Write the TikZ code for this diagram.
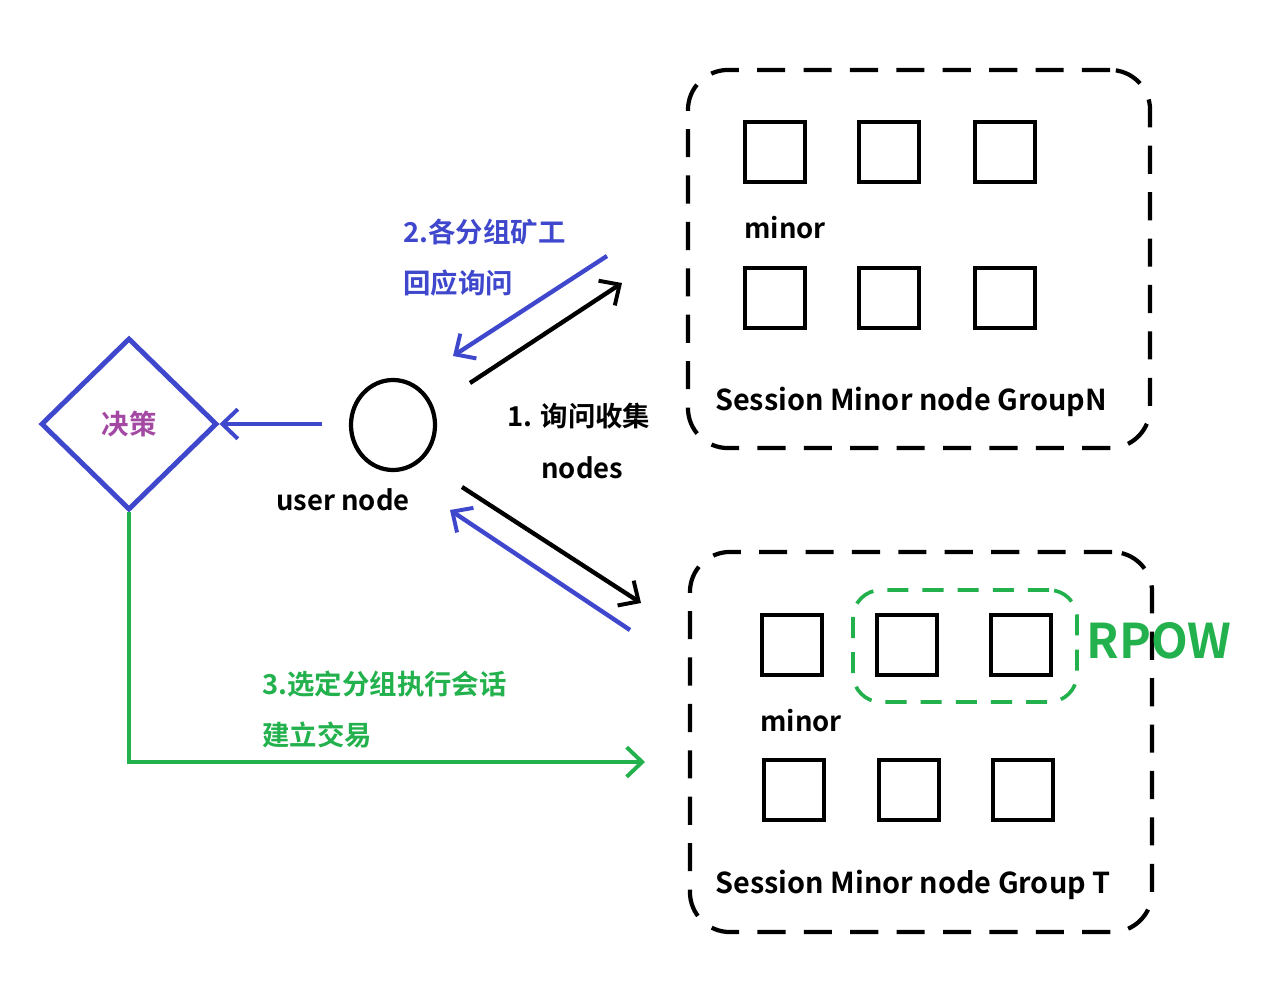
\documentclass[tikz,border=0pt]{standalone}
\usepackage{fontspec}
\setmainfont{Noto Sans CJK SC Bold}
\usetikzlibrary{arrows.meta,positioning,shapes.geometric}

\definecolor{pblue}{HTML}{3F48CC}
\definecolor{pgreen}{HTML}{22B14C}
\definecolor{ppurple}{HTML}{A349A4}

\begin{document}
\begin{tikzpicture}[
    x=0.025cm, y=-0.025cm,
    every node/.style={font=\fontsize{19.5}{22}\selectfont},
    % Miner squares
    miner/.style={rectangle, draw, line width=3.4pt, minimum size=1.5cm, inner sep=0pt},
    % Dashed group boxes
    groupbox/.style={rectangle, draw, line width=3pt, rounded corners=1.0cm,
        dash pattern=on 20pt off 13pt, inner sep=0pt},
    rpowbox/.style={rectangle, draw=pgreen, line width=2.6pt, rounded corners=0.7cm,
        dash pattern=on 15pt off 10pt, inner sep=0pt},
    % Plain text labels
    lbl/.style={inner sep=0pt, font=\fontsize{19.5}{22}\selectfont},
    % Arrow style
    arr/.style={-{Straight Barb[length=11pt,width=21pt,line width=2.8pt]}, line width=3.1pt},
]
\useasboundingbox (0,0) rectangle (1280,980);

% ============================================================
% LEFT: decision diamond and the user node
% ============================================================
\node[diamond, draw=pblue, line width=3.5pt, minimum width=4.4cm, minimum height=4.3cm,
    inner sep=0pt, text=ppurple] (decide) at (129,424) {决策};

\node[ellipse, draw, line width=3pt, minimum width=2.1cm, minimum height=2.25cm,
    inner sep=0pt] (user) at (393,425) {};
\node[lbl] (userlbl) at (343,500) {user node};

\coordinate (userw) at (322,424);
\draw[arr, pblue] (userw) -- (decide.east);

% ============================================================
% TOP RIGHT: Session Minor node GroupN
% ============================================================
\node[groupbox, minimum width=11.55cm, minimum height=9.45cm] (grpN) at (919,259) {};

\node[miner] (n1) at (775,152) {};
\node[miner] (n2) at (889,152) {};
\node[miner] (n3) at (1005,152) {};
\node[lbl] (nminor) at (785,228) {minor};
\node[miner] (n4) at (775,298) {};
\node[miner] (n5) at (889,298) {};
\node[miner] (n6) at (1005,298) {};
\node[lbl, font=\fontsize{20.5}{22}\selectfont] (nname) at (911,402) {Session Minor node GroupN};

% ============================================================
% BOTTOM RIGHT: Session Minor node Group T
% ============================================================
\node[groupbox, minimum width=11.55cm, minimum height=9.5cm] (grpT) at (921,742) {};

\node[rpowbox, minimum width=5.6cm, minimum height=2.8cm] (rpow) at (965,646) {};
\node[inner sep=0pt, text=pgreen, font=\fontsize{34}{36}\selectfont] (rpowlbl) at (1159,641) {RPOW};

\node[miner] (t1) at (792,645) {};
\node[miner] (t2) at (907,645) {};
\node[miner] (t3) at (1021,645) {};
\node[lbl] (tminor) at (801,721) {minor};
\node[miner] (t4) at (794,790) {};
\node[miner] (t5) at (909,790) {};
\node[miner] (t6) at (1023,790) {};
\node[lbl, font=\fontsize{20.5}{22}\selectfont] (tname) at (913,885) {Session Minor node Group T};

% ============================================================
% ARROWS between user node and the groups
% ============================================================
\coordinate (q1s) at (470,383);
\coordinate (q1e) at (622,283);
\coordinate (r1s) at (607,256);
\coordinate (r1e) at (453,356);
\coordinate (q2s) at (462,487);
\coordinate (q2e) at (641,603);
\coordinate (r2s) at (630,630);
\coordinate (r2e) at (450,510);

\draw[arr] (q1s) -- (q1e);
\draw[arr, pblue] (r1s) -- (r1e);
\draw[arr] (q2s) -- (q2e);
\draw[arr, pblue] (r2s) -- (r2e);

\node[lbl, anchor=west, text=pblue] (resp1) at (403,232) {2.各分组矿工};
\node[lbl, anchor=west, text=pblue] (resp2) at (403,283) {回应询问};
\node[lbl, anchor=west] (ask1) at (507,416) {1. 询问收集};
\node[lbl, anchor=west] (ask2) at (541,468) {nodes};

% ============================================================
% Decision to chosen group
% ============================================================
\coordinate (gend) at (645,762);
\draw[arr, pgreen] (decide.south) |- (gend);

\node[lbl, anchor=west, text=pgreen] (sel1) at (262,684) {3.选定分组执行会话};
\node[lbl, anchor=west, text=pgreen] (sel2) at (262,735) {建立交易};

\end{tikzpicture}
\end{document}
